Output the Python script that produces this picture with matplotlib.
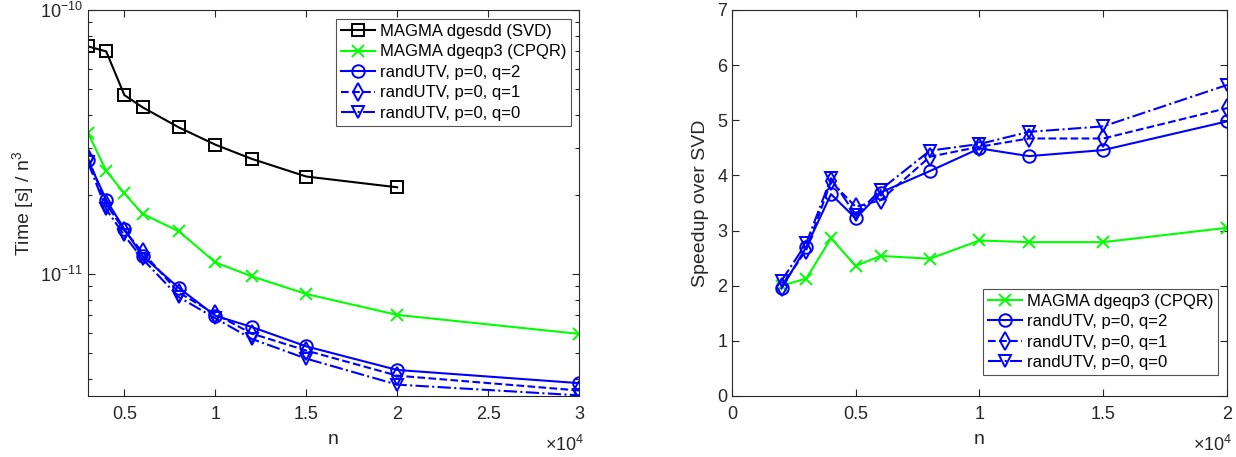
import matplotlib
matplotlib.use('Agg')
import matplotlib.pyplot as plt
from matplotlib.ticker import FixedLocator, FuncFormatter, LogLocator, NullFormatter
import numpy as np

plt.rcParams['font.family'] = ['Liberation Sans', 'DejaVu Sans']
plt.rcParams['font.size'] = 13
plt.rcParams['mathtext.fontset'] = 'custom'
plt.rcParams['mathtext.rm'] = 'Liberation Sans'

# ---- left panel: time / n^3 ----
n_time = [3000, 4000, 5000, 6000, 8000, 10000, 12000, 15000, 20000, 30000]
svd_time = [7.28e-11, 6.97e-11, 4.76e-11, 4.28e-11, 3.59e-11, 3.09e-11, 2.73e-11, 2.34e-11, 2.13e-11]
cpqr_time = [3.42e-11, 2.46e-11, 2.02e-11, 1.69e-11, 1.45e-11, 1.107e-11, 9.8e-12, 8.4e-12, 7.0e-12, 5.93e-12]
utv_q2_time = [2.70e-11, 1.91e-11, 1.48e-11, 1.17e-11, 8.85e-12, 6.95e-12, 6.3e-12, 5.32e-12, 4.33e-12, 3.86e-12]
utv_q1_time = [2.75e-11, 1.84e-11, 1.46e-11, 1.21e-11, 8.5e-12, 7.05e-12, 5.95e-12, 5.13e-12, 4.12e-12, 3.62e-12]
utv_q0_time = [2.65e-11, 1.76e-11, 1.40e-11, 1.14e-11, 8.17e-12, 6.8e-12, 5.68e-12, 4.78e-12, 3.81e-12, 3.47e-12]

# ---- right panel: speedup over SVD ----
n_speed = [2000, 3000, 4000, 5000, 6000, 8000, 10000, 12000, 15000, 20000]
cpqr_speed = [2.00, 2.13, 2.86, 2.36, 2.54, 2.49, 2.82, 2.79, 2.79, 3.05]
utv_q2_speed = [1.95, 2.70, 3.66, 3.22, 3.69, 4.08, 4.49, 4.35, 4.46, 4.98]
utv_q1_speed = [1.98, 2.65, 3.89, 3.43, 3.55, 4.34, 4.52, 4.67, 4.67, 5.22]
utv_q0_speed = [2.09, 2.77, 3.95, 3.28, 3.74, 4.45, 4.57, 4.79, 4.89, 5.64]

labels = ['MAGMA dgesdd (SVD)', 'MAGMA dgeqp3 (CPQR)',
          'randUTV, p=0, q=2', 'randUTV, p=0, q=1', 'randUTV, p=0, q=0']

axcol = '0.15'
lw = 1.5
ms = 9


def style_axes(ax):
    for s in ax.spines.values():
        s.set_color(axcol)
        s.set_linewidth(0.8)
    ax.tick_params(which='both', direction='in', top=True, right=True,
                   colors=axcol, labelcolor=axcol, labelsize=13)
    ax.tick_params(which='major', length=5, width=0.8)
    ax.tick_params(which='minor', length=3, width=0.8)
    ax.tick_params(axis='x', pad=7)
    ax.xaxis.set_major_formatter(FuncFormatter(lambda v, p: f'{v / 1e4:g}'))
    ax.text(1.01, -0.1, r'$\times$10$^4$', transform=ax.transAxes,
            ha='right', va='top', color=axcol, fontsize=13)


def add_legend(ax, loc, anchor):
    leg = ax.legend(loc=loc, bbox_to_anchor=anchor, fontsize=12,
                    frameon=True, fancybox=False, edgecolor=axcol,
                    borderpad=0.3, labelspacing=0.33, handlelength=2.0,
                    handletextpad=0.3, borderaxespad=0)
    leg.get_frame().set_linewidth(0.8)
    return leg


fig = plt.figure(figsize=(12.36, 4.57), dpi=100)
ax1 = fig.add_axes([88 / 1236, 1 - 396 / 457, (579 - 88) / 1236, 386 / 457])
ax2 = fig.add_axes([732 / 1236, 1 - 396 / 457, (1227 - 732) / 1236, 386 / 457])

mk = dict(markerfacecolor='none', markersize=ms, markeredgewidth=1.4, linewidth=lw)

ax1.plot(n_time[:len(svd_time)], svd_time, 'k-s', label=labels[0], **mk)
ax1.plot(n_time, cpqr_time, '-x', color=(0, 1, 0), label=labels[1], **mk)
ax1.plot(n_time, utv_q2_time, 'b-o', label=labels[2], **mk)
ax1.plot(n_time, utv_q1_time, 'b--d', label=labels[3], **mk)
ax1.plot(n_time, utv_q0_time, 'b-.v', label=labels[4], **mk)
ax1.set_yscale('log')
ax1.set_xlim(3000, 30000)
ax1.set_ylim(3.45e-12, 1e-10)
ax1.xaxis.set_major_locator(FixedLocator([5000, 10000, 15000, 20000, 25000, 30000]))
ax1.yaxis.set_major_locator(FixedLocator([1e-11, 1e-10]))
ax1.yaxis.set_minor_locator(LogLocator(base=10, subs=np.arange(2, 10), numticks=10))
ax1.yaxis.set_minor_formatter(NullFormatter())
ax1.set_xlabel('n', color=axcol, fontsize=14, labelpad=6)
ax1.set_ylabel('Time [s] / n$^3$', color=axcol, fontsize=14, labelpad=2)
style_axes(ax1)
add_legend(ax1, 'upper right', (0.984, 0.977))

ax2.plot(n_speed, cpqr_speed, '-x', color=(0, 1, 0), label=labels[1], **mk)
ax2.plot(n_speed, utv_q2_speed, 'b-o', label=labels[2], **mk)
ax2.plot(n_speed, utv_q1_speed, 'b--d', label=labels[3], **mk)
ax2.plot(n_speed, utv_q0_speed, 'b-.v', label=labels[4], **mk)
ax2.set_xlim(0, 20000)
ax2.set_ylim(0, 7)
ax2.xaxis.set_major_locator(FixedLocator([0, 5000, 10000, 15000, 20000]))
ax2.set_yticks(range(8))
ax2.set_xlabel('n', color=axcol, fontsize=14, labelpad=6)
ax2.set_ylabel('Speedup over SVD', color=axcol, fontsize=14, labelpad=6)
style_axes(ax2)
add_legend(ax2, 'lower right', (0.982, 0.054))

fig.savefig('out.png', dpi=100, facecolor='white')
